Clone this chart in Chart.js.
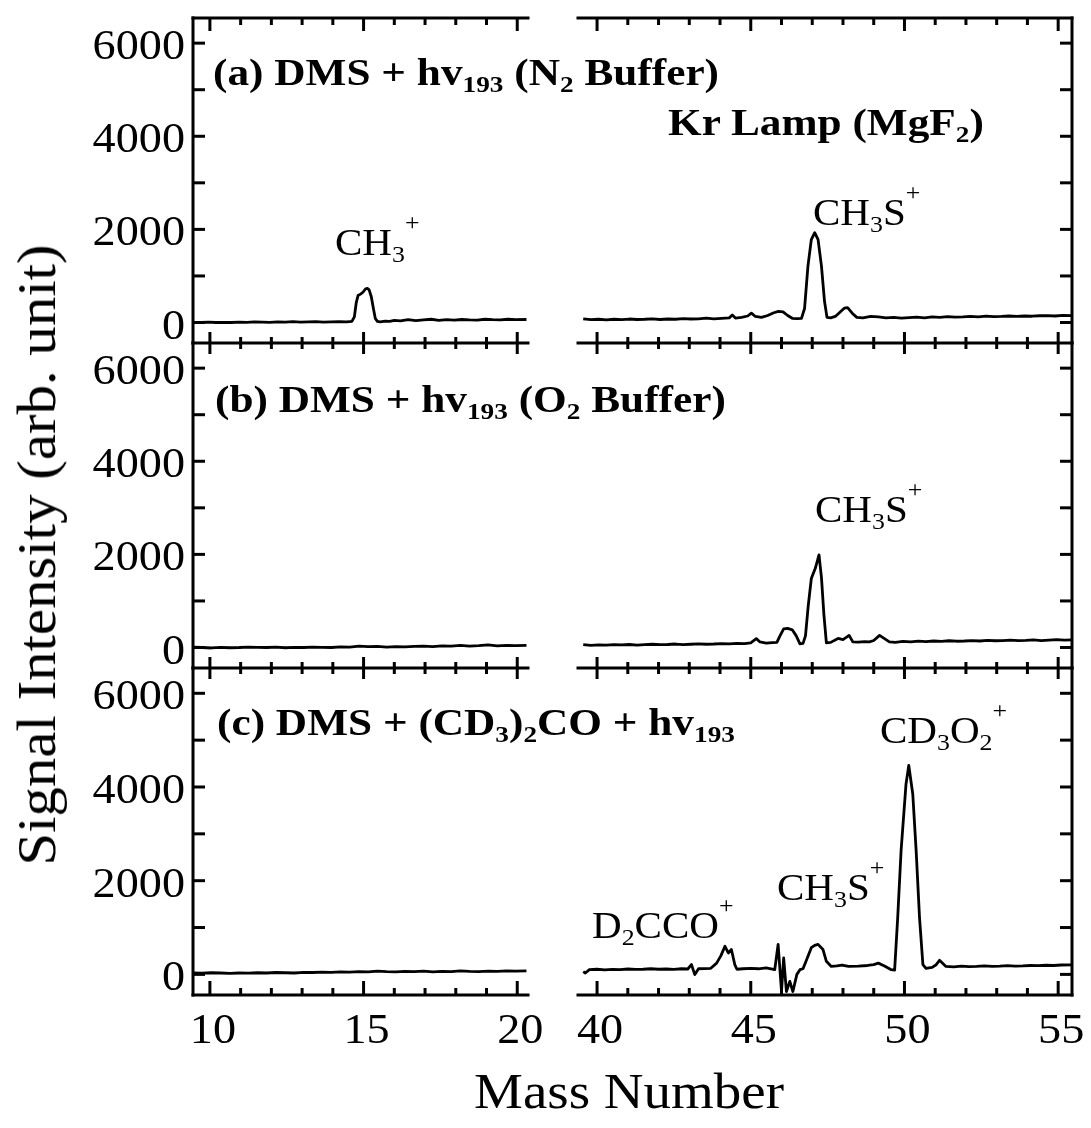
<!DOCTYPE html>
<html>
<head>
<meta charset="utf-8">
<script src="https://cdn.jsdelivr.net/npm/chart.js@4.4.1/dist/chart.umd.min.js"></script>
<style>
  body { margin: 0; background: #fff; }
  #fig { position: relative; width: 1091px; height: 1128px; overflow: hidden; background: #fff; }
  #fig canvas { position: absolute; left: 0; top: 0; }
  .txt { position: absolute; font-family: "Liberation Serif", "Times New Roman", serif; line-height: 1;
         white-space: nowrap; color: #000; transform-origin: 0 0; }
  .bold { font-weight: bold; font-size: 37px; transform: scaleX(1.17); }
  .ann { font-size: 38px; transform: scaleX(1.08); }
  .txt sub, .txt sup { font-size: 0.63em; line-height: 0; position: relative; vertical-align: baseline; }
  .txt sub { top: 0.3em; }
  .txt sup { top: -1.05em; }
  #ytitle { font-size: 54px; left: 37px; top: 555px; transform: rotate(-90deg) scaleX(1.09) translate(-50%, -50%); }
  #xtitle { font-size: 50px; left: 474px; top: 1066px; transform: scaleX(1.1); }
</style>
</head>
<body>
<div id="fig">
  <canvas id="aLo" width="1091" height="1128"></canvas>
  <canvas id="aHi" width="1091" height="1128"></canvas>
  <canvas id="bLo" width="1091" height="1128"></canvas>
  <canvas id="bHi" width="1091" height="1128"></canvas>
  <canvas id="cLo" width="1091" height="1128"></canvas>
  <canvas id="cHi" width="1091" height="1128"></canvas>

  <div class="txt bold" style="left:213px; top:54px;">(a) DMS + hv<sub>193</sub> (N<sub>2</sub> Buffer)</div>
  <div class="txt bold" style="left:668px; top:104px;">Kr Lamp (MgF<sub>2</sub>)</div>
  <div class="txt bold" style="left:215px; top:381px;">(b) DMS + hv<sub>193</sub> (O<sub>2</sub> Buffer)</div>
  <div class="txt bold" style="left:217px; top:704px;">(c) DMS + (CD<sub>3</sub>)<sub>2</sub>CO + hv<sub>193</sub></div>

  <div class="txt ann" style="left:335px; top:223px;">CH<sub>3</sub><sup>+</sup></div>
  <div class="txt ann" style="left:813px; top:193px;">CH<sub>3</sub>S<sup>+</sup></div>
  <div class="txt ann" style="left:815px; top:490px;">CH<sub>3</sub>S<sup>+</sup></div>
  <div class="txt ann" style="left:592px; top:906px;">D<sub>2</sub>CCO<sup>+</sup></div>
  <div class="txt ann" style="left:777px; top:868px;">CH<sub>3</sub>S<sup>+</sup></div>
  <div class="txt ann" style="left:880px; top:711px;">CD<sub>3</sub>O<sub>2</sub><sup>+</sup></div>

  <div class="txt" id="ytitle">Signal Intensity (arb. unit)</div>
  <div class="txt" id="xtitle">Mass Number</div>
</div>

<script>
// ---- spectra (mass number / signal) ----
var massA_lo = [9.45, 9.7, 9.95, 10.2, 10.45, 10.7, 10.95, 11.2, 11.45, 11.7, 11.95, 12.2, 12.45, 12.7, 12.95, 13.2, 13.45, 13.7, 13.95, 14.2,
    14.45, 14.62, 14.7, 14.76, 14.82, 14.9, 14.98, 15.06, 15.12, 15.18, 15.25, 15.32, 15.38, 15.45, 15.55, 15.7, 15.85, 16.0, 16.2, 16.45,
    16.7, 16.95, 17.2, 17.45, 17.7, 17.95, 18.2, 18.45, 18.7, 18.95, 19.2, 19.45, 19.7, 19.95, 20.3];
var sigA_lo = [5, 0, 10, 0, 5, 0, 10, 5, 15, 10, 5, 15, 10, 20, 10, 15, 20, 10, 15, 20,
    15, 25, 120, 420, 580, 610, 650, 720, 735, 700, 560, 300, 90, 25, 15, 30, 25, 45, 35, 60,
    40, 55, 70, 45, 60, 50, 65, 55, 50, 70, 60, 55, 70, 60, 65];

var massA_hi = [39.55, 39.8, 40.05, 40.3, 40.55, 40.8, 41.05, 41.3, 41.55, 41.8, 42.05, 42.3, 42.55, 42.8, 43.05, 43.3, 43.55, 43.8, 44.05, 44.3,
    44.4, 44.5, 44.7, 44.9, 45.02, 45.15, 45.35, 45.55, 45.75, 45.9, 46.05, 46.2, 46.35, 46.5, 46.65, 46.75, 46.86, 46.97, 47.08, 47.19,
    47.3, 47.4, 47.48, 47.6, 47.75, 47.9, 48.05, 48.15, 48.3, 48.45, 48.65, 48.9, 49.15, 49.4, 49.65, 49.9, 50.15, 50.4, 50.65, 50.9,
    51.15, 51.4, 51.65, 51.9, 52.15, 52.4, 52.65, 52.9, 53.15, 53.4, 53.65, 53.9, 54.15, 54.4, 54.65, 54.9, 55.15, 55.45];
var sigA_hi = [80, 60, 70, 55, 70, 60, 75, 65, 70, 80, 65, 75, 70, 85, 75, 80, 95, 80, 90, 100,
    160, 95, 110, 140, 200, 130, 110, 150, 210, 240, 230, 150, 90, 85, 90, 300, 1210, 1780, 1930, 1780,
    1210, 450, 110, 100, 130, 220, 310, 320, 200, 110, 100, 130, 120, 100, 110, 95, 105, 115, 100, 120,
    110, 125, 115, 120, 130, 120, 135, 125, 130, 140, 130, 140, 135, 145, 150, 140, 155, 150];

var massB_lo = [9.45, 9.75, 10.05, 10.35, 10.65, 10.95, 11.25, 11.55, 11.85, 12.15, 12.45, 12.75, 13.05, 13.35, 13.65, 13.95, 14.25, 14.55, 14.85, 15.15,
    15.45, 15.75, 16.05, 16.35, 16.65, 16.95, 17.25, 17.55, 17.85, 18.15, 18.45, 18.75, 19.05, 19.35, 19.65, 19.95, 20.3];
var sigB_lo = [10, 0, -10, 5, -5, 0, 10, 5, 0, 10, -5, 5, 0, 10, 5, 0, 15, 10, 30, 20,
    25, 10, 20, 15, 25, 30, 20, 35, 30, 45, 30, 40, 55, 35, 45, 40, 45];

var massB_hi = [39.55, 39.8, 40.05, 40.3, 40.55, 40.8, 41.05, 41.3, 41.55, 41.8, 42.05, 42.3, 42.55, 42.8, 43.05, 43.3, 43.55, 43.8, 44.05, 44.3,
    44.55, 44.8, 45.0, 45.18, 45.3, 45.5, 45.7, 45.85, 45.95, 46.07, 46.2, 46.35, 46.48, 46.6, 46.7, 46.78, 46.87, 46.97, 47.1, 47.22,
    47.3, 47.38, 47.46, 47.6, 47.84, 48.0, 48.2, 48.32, 48.5, 48.7, 48.86, 49.0, 49.19, 49.35, 49.51, 49.7, 49.95, 50.2, 50.45, 50.7,
    50.95, 51.2, 51.45, 51.7, 51.95, 52.2, 52.45, 52.7, 52.95, 53.2, 53.45, 53.7, 53.95, 54.2, 54.45, 54.7, 54.95, 55.2, 55.45];
var sigB_hi = [60, 45, 55, 50, 60, 55, 65, 50, 60, 70, 60, 65, 75, 60, 70, 80, 70, 75, 85, 80,
    90, 85, 100, 190, 120, 95, 105, 110, 250, 400, 410, 380, 250, 80, 90, 250, 900, 1480, 1700, 1990,
    1500, 700, 100, 110, 195, 170, 260, 120, 115, 125, 120, 150, 260, 190, 120, 110, 130, 120, 135, 125,
    140, 130, 145, 135, 140, 150, 140, 155, 145, 150, 160, 150, 155, 165, 150, 160, 170, 160, 165];

var massC_lo = [9.45, 9.75, 10.05, 10.35, 10.65, 10.95, 11.25, 11.55, 11.85, 12.15, 12.45, 12.75, 13.05, 13.35, 13.65, 13.95, 14.25, 14.55, 14.85, 15.15,
    15.45, 15.75, 16.05, 16.35, 16.65, 16.95, 17.25, 17.55, 17.85, 18.15, 18.45, 18.75, 19.05, 19.35, 19.65, 19.95, 20.3];
var sigC_lo = [30, 25, 35, 30, 20, 30, 25, 35, 30, 40, 35, 30, 45, 40, 50, 45, 55, 50, 60, 55,
    70, 60, 55, 65, 60, 70, 55, 65, 60, 75, 65, 60, 70, 65, 75, 70, 75];

var massC_hi = [39.55, 39.62, 39.75, 40.0, 40.25, 40.5, 40.75, 41.0, 41.25, 41.5, 41.75, 42.0, 42.25, 42.5, 42.75, 42.95, 43.07, 43.18, 43.3, 43.5,
    43.7, 43.89, 44.03, 44.16, 44.27, 44.37, 44.48, 44.55, 44.75, 45.0, 45.25, 45.5, 45.78, 45.89, 46.0, 46.07, 46.16, 46.27, 46.37, 46.5,
    46.6, 46.7, 46.81, 46.97, 47.08, 47.19, 47.35, 47.46, 47.62, 47.8, 47.97, 48.18, 48.5, 48.8, 49.0, 49.15, 49.35, 49.57, 49.68, 49.78,
    49.89, 50.05, 50.14, 50.27, 50.38, 50.49, 50.6, 50.7, 50.9, 51.02, 51.14, 51.35, 51.6, 51.85, 52.1, 52.35, 52.6, 52.85, 53.1, 53.35,
    53.6, 53.85, 54.1, 54.35, 54.6, 54.85, 55.1, 55.45];
var sigC_hi = [60, 30, 100, 110, 95, 105, 100, 115, 105, 110, 120, 110, 115, 105, 120, 115, 210, -5, 120, 125,
    130, 240, 400, 600, 457, 530, 210, 110, 120, 130, 120, 140, 100, 640, -365, 350, -365, -150, -365, 0,
    100, 120, 300, 570, 620, 640, 530, 280, 170, 180, 200, 170, 175, 190, 210, 240, 180, 100, 90, 1210,
    2640, 4060, 4460, 3850, 2640, 1210, 210, 130, 150, 200, 300, 170, 160, 175, 165, 170, 180, 170, 175, 185,
    175, 180, 190, 185, 195, 190, 200, 205];

// ---- axes ----
var rangeLo = [9.45, 20.35];
var rangeHi = [39.38, 55.45];
var rangeY = [-440, 6540];
var ticksLo = [10, 11, 12, 13, 14, 15, 16, 17, 18, 19, 20];
var ticksHi = [40, 41, 42, 43, 44, 45, 46, 47, 48, 49, 50, 51, 52, 53, 54, 55];
var ticksY = [0, 1000, 2000, 3000, 4000, 5000, 6000];
var labelsY = [0, 2000, 4000, 6000];

var W = 1091, H = 1128;
var cols = { lo: [193, 528], hi: [578, 1072] };
var rows = [[18, 343], [343, 668], [668, 995]];

var FONT = '"Liberation Serif", "Times New Roman", serif';

// draws the box sides, the tick marks and the numbers
var frame = {
    id: 'frame',
    afterDatasetsDraw: function (chart, args, o) {
        var ctx = chart.ctx, a = chart.chartArea, xs = chart.scales.x, ys = chart.scales.y;
        ctx.save();
        ctx.strokeStyle = '#000';
        ctx.fillStyle = '#000';
        ctx.lineWidth = 3;
        ctx.lineCap = 'square';
        function seg(x1, y1, x2, y2) { ctx.beginPath(); ctx.moveTo(x1, y1); ctx.lineTo(x2, y2); ctx.stroke(); }

        var sx = o.side === 'left' ? a.left : a.right;
        var dir = o.side === 'left' ? 1 : -1;
        seg(sx, a.top, sx, a.bottom);
        ctx.lineCap = 'butt';
        ticksY.forEach(function (v) {
            var py = ys.getPixelForValue(v);
            seg(sx, py, sx + dir * 12, py);
        });

        ctx.lineCap = 'square';
        if (o.top) seg(a.left, a.top, a.right, a.top);
        seg(a.left, a.bottom, a.right, a.bottom);
        ctx.lineCap = 'butt';
        o.xTicks.forEach(function (v) {
            var px = xs.getPixelForValue(v), major = v % 5 === 0;
            if (o.top) seg(px, a.top, px, a.top + (major ? 13 : 7));
            if (o.labels) seg(px, a.bottom, px, a.bottom - (major ? 14 : 7));
            else seg(px, a.bottom - (major ? 11 : 6), px, a.bottom + (major ? 11 : 6));
        });

        ctx.font = '42px ' + FONT;
        if (o.side === 'left') {
            ctx.textAlign = 'right';
            ctx.textBaseline = 'alphabetic';
            labelsY.forEach(function (v) {
                var py = ys.getPixelForValue(v);
                ctx.save();
                ctx.translate(185, py + 16);
                ctx.scale(1.1, 1);
                ctx.fillText(String(v), 0, 0);
                ctx.restore();
            });
        }
        if (o.labels) {
            ctx.textAlign = 'center';
            ctx.textBaseline = 'alphabetic';
            o.xTicks.filter(function (v) { return v % 5 === 0; }).forEach(function (v) {
                var px = xs.getPixelForValue(v);
                ctx.save();
                ctx.translate(px + 3, 1043);
                ctx.scale(1.1, 1);
                ctx.fillText(String(v), 0, 0);
                ctx.restore();
            });
        }
        ctx.restore();
    }
};

function panel(id, masses, signal, col, row) {
    var xr = col === 'lo' ? rangeLo : rangeHi;
    var box = cols[col], rb = rows[row];
    return new Chart(document.getElementById(id), {
        type: 'line',
        data: {
            datasets: [{
                data: masses.map(function (m, i) { return { x: m, y: signal[i] }; }),
                borderColor: '#000',
                borderWidth: 2.8,
                borderJoinStyle: 'round',
                pointRadius: 0,
                tension: 0,
                fill: false
            }]
        },
        options: {
            responsive: false,
            animation: false,
            devicePixelRatio: 1,
            events: [],
            layout: { padding: { left: box[0], right: W - box[1], top: rb[0], bottom: H - rb[1] } },
            scales: {
                x: { type: 'linear', min: xr[0], max: xr[1], display: false },
                y: { type: 'linear', min: rangeY[0], max: rangeY[1], display: false }
            },
            plugins: {
                legend: { display: false },
                tooltip: { enabled: false },
                frame: {
                    side: col === 'lo' ? 'left' : 'right',
                    top: row === 0,
                    labels: row === 2,
                    xTicks: col === 'lo' ? ticksLo : ticksHi
                }
            }
        },
        plugins: [frame]
    });
}

panel('aLo', massA_lo, sigA_lo, 'lo', 0);
panel('aHi', massA_hi, sigA_hi, 'hi', 0);
panel('bLo', massB_lo, sigB_lo, 'lo', 1);
panel('bHi', massB_hi, sigB_hi, 'hi', 1);
panel('cLo', massC_lo, sigC_lo, 'lo', 2);
panel('cHi', massC_hi, sigC_hi, 'hi', 2);
</script>
</body>
</html>
